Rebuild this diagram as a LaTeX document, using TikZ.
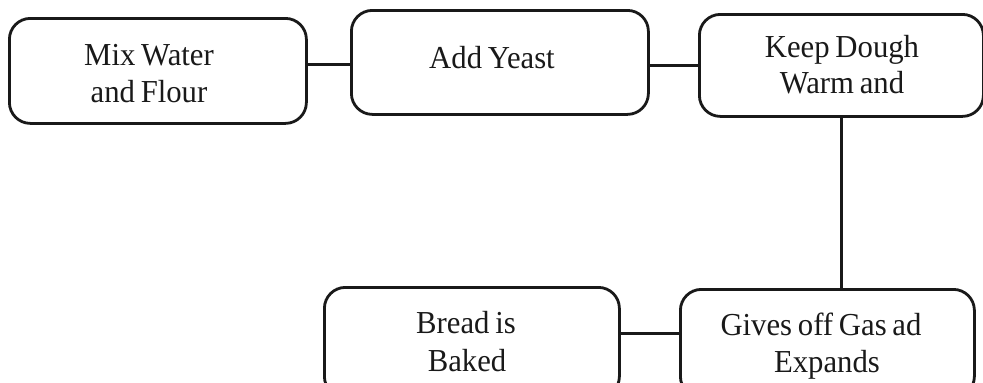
\documentclass[tikz,border=0pt]{standalone}
\usepackage{fontspec}
\setmainfont{Liberation Serif}[FakeStretch=0.96, WordSpace=0.75]
\begin{document}
\begin{tikzpicture}[x=1pt, y=-1pt,
  stepbox/.style={draw=black!90, line width=2.8pt, rounded corners=21pt,
    inner sep=0pt, anchor=north west},
  steptext/.style={inner sep=0pt, anchor=base, text=black!90,
    font=\fontsize{32}{37}\selectfont},
  link/.style={draw=black!90, line width=2.8pt}]
\useasboundingbox (0,0) rectangle (983,383);

% step boxes
\node[stepbox, minimum width=297pt, minimum height=105pt] (b1) at (8,17) {};
\node[stepbox, minimum width=297pt, minimum height=104pt] (b2) at (350,9) {};
\node[stepbox, minimum width=284pt, minimum height=102pt] (b3) at (698,13) {};
\node[stepbox, minimum width=295pt, minimum height=110pt] (b4) at (323,286) {};
\node[stepbox, minimum width=294pt, minimum height=108pt] (b5) at (679,288) {};

% labels
\node[steptext] (t1a) at (149,65) {Mix Water};
\node[steptext] (t1b) at (149,102) {and Flour};
\node[steptext] (t2a) at (492,68) {Add Yeast};
\node[steptext] (t3a) at (842,57) {Keep Dough};
\node[steptext] (t3b) at (842,93) {Warm and};
\node[steptext] (t4a) at (466,333) {Bread is};
\node[steptext] (t4b) at (467,371) {Baked};
\node[steptext] (t5a) at (821,335) {Gives off Gas ad};
\node[steptext] (t5b) at (827,372) {Expands};

% connectors
\draw[link] ([yshift=-2pt]b2.west -| b1.east) -- ([yshift=-2pt]b2.west);
\draw[link] (b2.east |- b3.west) -- (b3.west);
\draw[link] (b3.south) -- (b3.south |- b5.north);
\draw[link] ([yshift=10pt]b5.west -| b4.east) -- ([yshift=10pt]b5.west);
\end{tikzpicture}
\end{document}
